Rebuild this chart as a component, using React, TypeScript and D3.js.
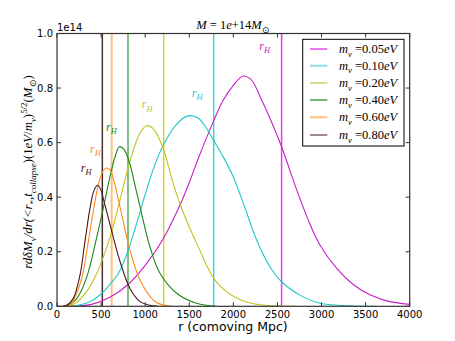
import React from 'react';
import * as d3 from 'd3';

const masses = ['0.05', '0.10', '0.20', '0.40', '0.60', '0.80'];
const curveColors = ['#c81ec8', '#1ec8c8', '#c3c31e', '#168a16', '#ff8a1a', '#4a1616'];
const vlineColors = ['#e040e0', '#40d4d4', '#d4d440', '#80c080', '#ffbf80', '#4a2c2c'];
const vlineWidths = [1.5, 1.5, 1.5, 2, 2, 1.5];
const legendColors = ['#e020e0', '#90e0e0', '#dcdc90', '#168a16', '#ffbf80', '#a08a8a'];
const legendWidths = [1.2, 2, 2, 1.2, 2, 2];

const rM005 = [200, 400, 600, 800, 1000, 1200, 1400, 1508, 1600, 1773, 1886, 2000, 2112, 2200, 2321, 2400, 2547, 2650, 2755, 2870, 2982, 3170, 3360, 3550, 3740, 4000];
const vM005 = [0, 0.008, 0.033, 0.078, 0.15, 0.245, 0.375, 0.46, 0.54, 0.677, 0.756, 0.81, 0.844, 0.832, 0.756, 0.7, 0.585, 0.49, 0.395, 0.3, 0.225, 0.14, 0.08, 0.042, 0.02, 0.007];

const rM010 = [100, 250, 374, 500, 601, 695, 790, 900, 1000, 1100, 1205, 1350, 1482, 1600, 1680, 1773, 1890, 1999, 2113, 2264, 2415, 2547, 2755, 2982, 3300, 3600];
const vM010 = [0, 0.005, 0.017, 0.045, 0.08, 0.12, 0.19, 0.3, 0.41, 0.51, 0.59, 0.665, 0.698, 0.69, 0.66, 0.61, 0.545, 0.475, 0.378, 0.243, 0.145, 0.09, 0.041, 0.011, 0.002, 0];

const rM020 = [80, 200, 336, 450, 563, 639, 714, 800, 884, 950, 1017, 1100, 1210, 1300, 1395, 1508, 1621, 1700, 1773, 1848, 1999, 2200, 2400, 2700];
const vM020 = [0, 0.01, 0.054, 0.12, 0.215, 0.295, 0.39, 0.5, 0.59, 0.64, 0.662, 0.648, 0.573, 0.47, 0.375, 0.285, 0.205, 0.148, 0.105, 0.075, 0.037, 0.011, 0.003, 0];

const rM040 = [70, 200, 280, 355, 431, 525, 601, 660, 707, 760, 828, 880, 941, 1054, 1168, 1357, 1584, 1800];
const vM040 = [0, 0.02, 0.06, 0.125, 0.225, 0.36, 0.475, 0.55, 0.585, 0.575, 0.52, 0.45, 0.365, 0.218, 0.121, 0.048, 0.011, 0];

const rM060 = [60, 150, 220, 290, 355, 412, 469, 520, 563, 601, 650, 714, 828, 941, 1092, 1168, 1300];
const vM060 = [0, 0.005, 0.045, 0.115, 0.237, 0.35, 0.445, 0.495, 0.507, 0.5, 0.455, 0.365, 0.206, 0.096, 0.023, 0.008, 0];

const rM080 = [60, 110, 185, 261, 317, 374, 420, 461, 500, 525, 601, 714, 828, 941, 1050, 1150];
const vM080 = [0, 0.003, 0.029, 0.115, 0.237, 0.359, 0.425, 0.444, 0.425, 0.395, 0.3, 0.165, 0.065, 0.017, 0.004, 0];

const seriesR = [rM005, rM010, rM020, rM040, rM060, rM080];
const seriesV = [vM005, vM010, vM020, vM040, vM060, vM080];

const rH = [2547, 1777, 1210, 805, 620, 514];
const labelR = [2294, 1528, 961, 556, 374, 269];
const labelV = [0.94, 0.768, 0.726, 0.644, 0.563, 0.493];

const xTicks = [0, 500, 1000, 1500, 2000, 2500, 3000, 3500, 4000];
const yTicks = [0, 0.2, 0.4, 0.6, 0.8, 1.0];

const MATH = "'Liberation Serif', serif";
const SANS = "'DejaVu Sans', sans-serif";

type Seg = { t: string; k?: 'sub' | 'sup'; up?: boolean };

function mathSpans(segs: Seg[], size: number) {
  const out: React.ReactNode[] = [];
  let shift = 0;
  segs.forEach((s, i) => {
    let target = 0;
    let fs = size;
    if (s.k === 'sub') { target = size * 0.28; fs = size * 0.7; }
    if (s.k === 'sup') { target = -size * 0.42; fs = size * 0.7; }
    const dy = target - shift;
    shift = target;
    out.push(
      <tspan key={i} dy={dy} fontSize={fs} fontStyle={s.up ? 'normal' : 'italic'}>{s.t}</tspan>
    );
  });
  return out;
}

export default function App() {
  const W = 455, H = 341;
  const x = d3.scaleLinear().domain([0, 4000]).range([57, 409.7]);
  const y = d3.scaleLinear().domain([0, 1]).range([306.3, 33.5]);
  const [x0, x1] = x.range();
  const [y0, y1] = y.range();

  const line = d3.line<[number, number]>()
    .x(d => x(d[0]))
    .y(d => y(d[1]))
    .curve(d3.curveCatmullRom.alpha(0.5));

  const ylabel: Seg[] = [
    { t: 'rd' }, { t: 'δ' }, { t: 'M' }, { t: 'ν', k: 'sub' }, { t: '/dr(<' },
    { t: 'r' }, { t: '*', k: 'sub', up: true }, { t: ',', up: true }, { t: 't' }, { t: 'collapse', k: 'sub' },
    { t: ')(', up: true }, { t: '1', up: true }, { t: 'eV' }, { t: '/', up: true }, { t: 'm' }, { t: 'ν', k: 'sub' },
    { t: ')', up: true }, { t: '5/2', k: 'sup', up: true }, { t: '(', up: true }, { t: 'M' }, { t: '⊙', k: 'sub', up: true }, { t: ')', up: true },
  ];

  const title: Seg[] = [
    { t: 'M' }, { t: ' = ', up: true }, { t: '1', up: true }, { t: 'e' }, { t: '+14', up: true }, { t: 'M' }, { t: '⊙', k: 'sub', up: true },
  ];

  const legX = 302.7, legY = 39.3, legW = 101.3, legH = 106.7;
  const legRows = [49, 65.7, 83, 100, 117.3, 135];

  return (
    <svg width={W} height={H} style={{ position: 'absolute', left: 0, top: 0, background: '#fff' }}>
      <defs>
        <clipPath id="plotclip">
          <rect x={x0} y={y1} width={x1 - x0} height={y0 - y1} />
        </clipPath>
      </defs>
      <rect x={0} y={0} width={W} height={H} fill="#fff" />
      <g clipPath="url(#plotclip)">
        {rH.map((r, i) => (
          <line key={'v' + i} x1={x(r)} x2={x(r)} y1={y0} y2={y1} stroke={vlineColors[i]} strokeWidth={vlineWidths[i]} />
        ))}
        {seriesR.map((rs, i) => (
          <path key={'c' + i} d={line(rs.map((r, j) => [r, seriesV[i][j]] as [number, number])) || ''}
            fill="none" stroke={curveColors[i]} strokeWidth={1.1} />
        ))}
      </g>
      {labelR.map((r, i) => (
        <text key={'l' + i} x={x(r)} y={y(labelV[i])} fill={curveColors[i]} fontFamily={MATH} fontSize={12}>
          {mathSpans([{ t: 'r' }, { t: 'H', k: 'sub' }], 12)}
        </text>
      ))}
      <rect x={x0} y={y1} width={x1 - x0} height={y0 - y1} fill="none" stroke="#333" strokeWidth={1.2} />
      {xTicks.map(t => (
        <g key={'xt' + t}>
          <line x1={x(t)} x2={x(t)} y1={y0} y2={y0 - 4} stroke="#333" />
          <line x1={x(t)} x2={x(t)} y1={y1} y2={y1 + 4} stroke="#333" />
          <text x={x(t)} y={317.5} textAnchor="middle" fontFamily={SANS} fontSize={10} fill="#000">{t}</text>
        </g>
      ))}
      {yTicks.map(t => (
        <g key={'yt' + t}>
          <line x1={x0} x2={x0 + 4} y1={y(t)} y2={y(t)} stroke="#333" />
          <line x1={x1} x2={x1 - 4} y1={y(t)} y2={y(t)} stroke="#333" />
          <text x={53} y={y(t) + 3.6} textAnchor="end" fontFamily={SANS} fontSize={10} fill="#000">{t.toFixed(1)}</text>
        </g>
      ))}
      <text x={57} y={30.5} fontFamily={SANS} fontSize={10} fill="#000">1e14</text>
      <text x={233} y={29} textAnchor="middle" fontFamily={MATH} fontSize={12.5} fill="#000">
        {mathSpans(title, 12.5)}
      </text>
      <text x={233} y={331} textAnchor="middle" fontFamily={SANS} fontSize={12.5} fill="#000">r (comoving Mpc)</text>
      <text transform="translate(32,172) rotate(-90)" textAnchor="middle" fontFamily={MATH} fontSize={12.8} fill="#000">
        {mathSpans(ylabel, 12.8)}
      </text>
      <rect x={legX} y={legY} width={legW} height={legH} fill="#fff" stroke="#000" strokeWidth={1} />
      {masses.map((m, i) => (
        <g key={'lg' + i}>
          <line x1={310} x2={327.3} y1={legRows[i]} y2={legRows[i]} stroke={legendColors[i]} strokeWidth={legendWidths[i]} />
          <text x={339} y={legRows[i] + 4} fontFamily={MATH} fontSize={12.5} fill="#000">
            {mathSpans([{ t: 'm' }, { t: 'ν', k: 'sub' }, { t: ' =' + m, up: true }, { t: 'eV' }], 12.5)}
          </text>
        </g>
      ))}
    </svg>
  );
}
